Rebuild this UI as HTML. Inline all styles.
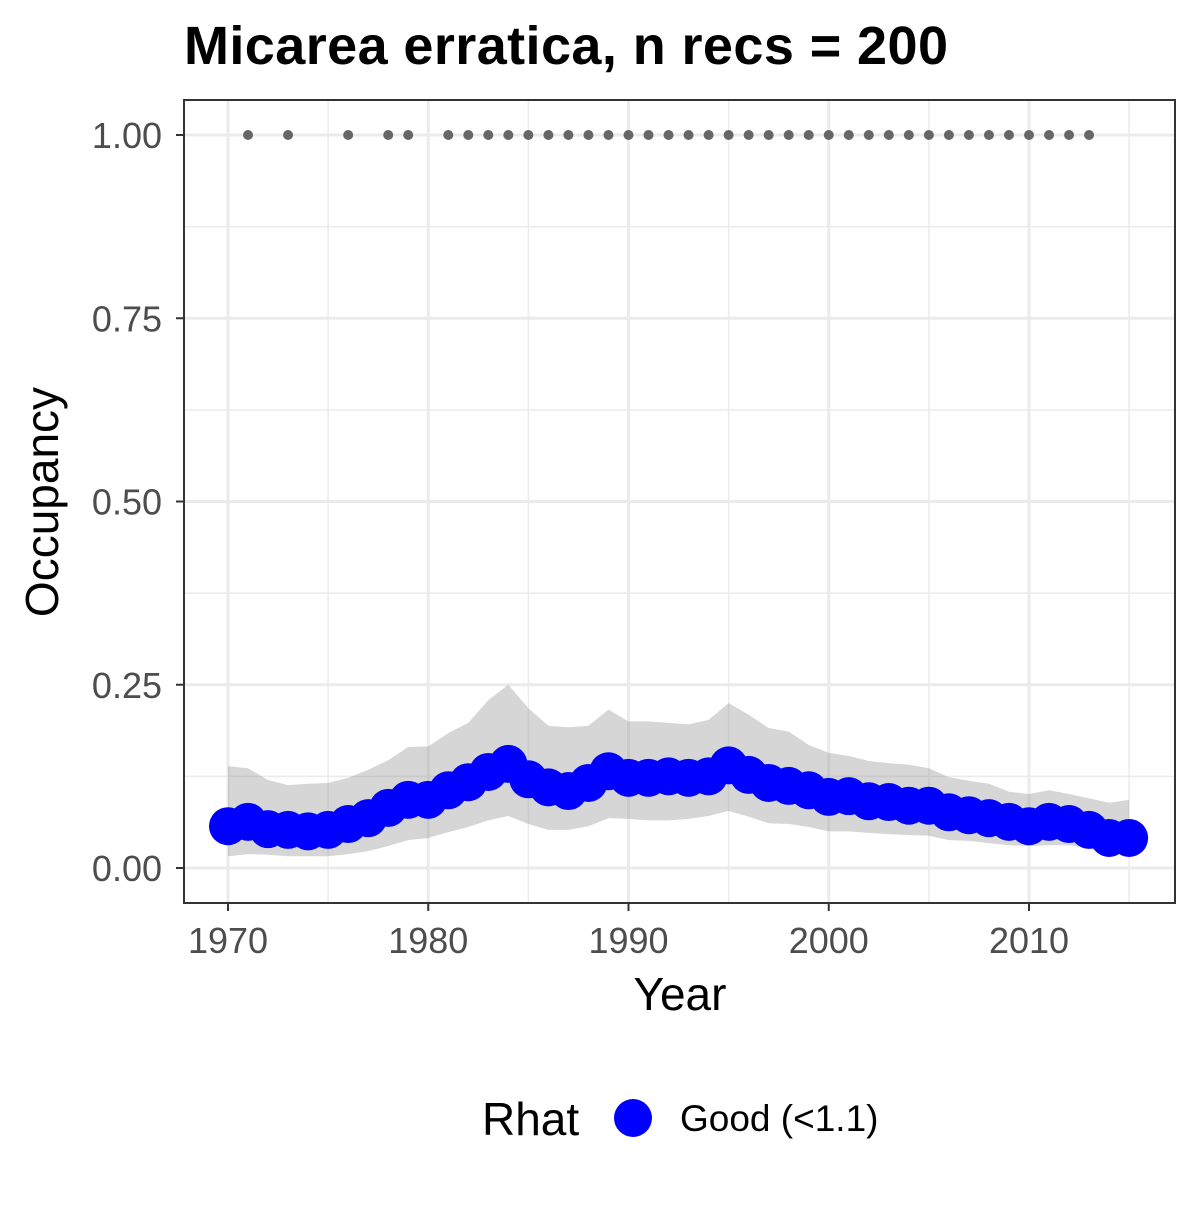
<!DOCTYPE html>
<html><head><meta charset="utf-8"><style>
body{margin:0;background:#fff}
text{font-family:"Liberation Sans",Arial,sans-serif}
</style></head><body>
<svg id="chart" width="1200" height="1200" xmlns="http://www.w3.org/2000/svg">
<text x="184" y="64" font-size="54" font-weight="bold" fill="#000" textLength="764">Micarea erratica, n recs = 200</text>
<g id="plot"></g>
<text x="680" y="1010" font-size="46" text-anchor="middle" fill="#000">Year</text>
<text transform="translate(58,502) rotate(-90)" font-size="46" text-anchor="middle" fill="#000">Occupancy</text>
<g>
<text x="482" y="1135" font-size="46" fill="#000">Rhat</text>
<circle cx="633" cy="1118" r="19" fill="#0000ff"/>
<text x="680" y="1131" font-size="37" fill="#000">Good (&lt;1.1)</text>
</g>
</svg>
<script>
const years=[1970,1971,1972,1973,1974,1975,1976,1977,1978,1979,1980,1981,1982,1983,1984,1985,1986,1987,1988,1989,1990,1991,1992,1993,1994,1995,1996,1997,1998,1999,2000,2001,2002,2003,2004,2005,2006,2007,2008,2009,2010,2011,2012,2013,2014,2015];
const occupancy=[.057,.063,.053,.052,.05,.052,.06,.068,.082,.093,.093,.106,.117,.131,.142,.121,.11,.105,.116,.132,.123,.123,.125,.123,.125,.14,.127,.116,.112,.106,.097,.098,.091,.09,.085,.085,.076,.072,.068,.063,.057,.063,.06,.052,.041,.041];
const upper=[.139,.136,.12,.113,.115,.116,.123,.134,.147,.165,.166,.184,.198,.229,.25,.218,.194,.192,.194,.216,.2,.2,.198,.196,.202,.225,.209,.191,.186,.168,.157,.153,.146,.143,.141,.136,.124,.119,.115,.104,.101,.106,.101,.095,.089,.093];
const lower=[.016,.019,.018,.016,.016,.016,.019,.023,.03,.038,.041,.049,.056,.065,.071,.06,.052,.052,.057,.068,.067,.065,.065,.067,.071,.078,.07,.061,.06,.056,.05,.05,.048,.046,.045,.044,.038,.037,.034,.031,.03,.031,.031,.027,.02,.018];
const recordYears=[1971,1973,1976,1978,1979,1981,1982,1983,1984,1985,1986,1987,1988,1989,1990,1991,1992,1993,1994,1995,1996,1997,1998,1999,2000,2001,2002,2003,2004,2005,2006,2007,2008,2009,2010,2011,2012,2013];
const xTicks=[1970,1980,1990,2000,2010];
const yTicks=[0,0.25,0.5,0.75,1];
const yTickLabels=["0.00","0.25","0.50","0.75","1.00"];

const NS="http://www.w3.org/2000/svg";
const L=184,R=1175,T=100,B=903;
const xs=y=>228+(y-1970)*(1029-228)/40;
const ys=v=>868-v*733;
const g=document.getElementById('plot');
function mk(tag,attrs,parent){const e=document.createElementNS(NS,tag);for(const k in attrs)e.setAttribute(k,attrs[k]);(parent||g).appendChild(e);return e;}
mk('rect',{x:L,y:T,width:R-L,height:B-T,fill:'#fff'});
for(let i=0;i<yTicks.length-1;i++){const v=(yTicks[i]+yTicks[i+1])/2;mk('line',{x1:L,x2:R,y1:ys(v),y2:ys(v),stroke:'#ebebeb','stroke-width':1.5});}
for(let i=0;i<xTicks.length;i++){const v=xTicks[i]+5;if(xs(v)<R)mk('line',{x1:xs(v),x2:xs(v),y1:T,y2:B,stroke:'#ebebeb','stroke-width':1.5});}
yTicks.forEach(v=>mk('line',{x1:L,x2:R,y1:ys(v),y2:ys(v),stroke:'#ebebeb','stroke-width':3}));
xTicks.forEach(v=>mk('line',{x1:xs(v),x2:xs(v),y1:T,y2:B,stroke:'#ebebeb','stroke-width':3}));
let d='';
years.forEach((y,i)=>{d+=(i?'L':'M')+xs(y)+','+ys(upper[i]);});
for(let i=years.length-1;i>=0;i--)d+='L'+xs(years[i])+','+ys(lower[i]);
const band=mk('path',{d:d+'Z',fill:'#999','fill-opacity':0.4});


years.forEach((y,i)=>{const c=mk('circle',{cx:xs(y),cy:ys(occupancy[i]),r:19,fill:'#0000ff'});

});
recordYears.forEach(y=>{const c=mk('circle',{cx:xs(y),cy:ys(1),r:5,fill:'#666'});

});
mk('rect',{x:L,y:T,width:R-L,height:B-T,fill:'none',stroke:'#333','stroke-width':2});
yTicks.forEach((v,i)=>{mk('line',{x1:L-8,x2:L,y1:ys(v),y2:ys(v),stroke:'#333','stroke-width':2});
const t=mk('text',{x:L-22,y:ys(v)+13,'font-size':36,'text-anchor':'end',fill:'#4d4d4d'});t.textContent=yTickLabels[i];

});
xTicks.forEach(v=>{mk('line',{x1:xs(v),x2:xs(v),y1:B,y2:B+8,stroke:'#333','stroke-width':2});
const t=mk('text',{x:xs(v),y:B+50,'font-size':36,'text-anchor':'middle',fill:'#4d4d4d'});t.textContent=v;

});
</script>
</body></html>
